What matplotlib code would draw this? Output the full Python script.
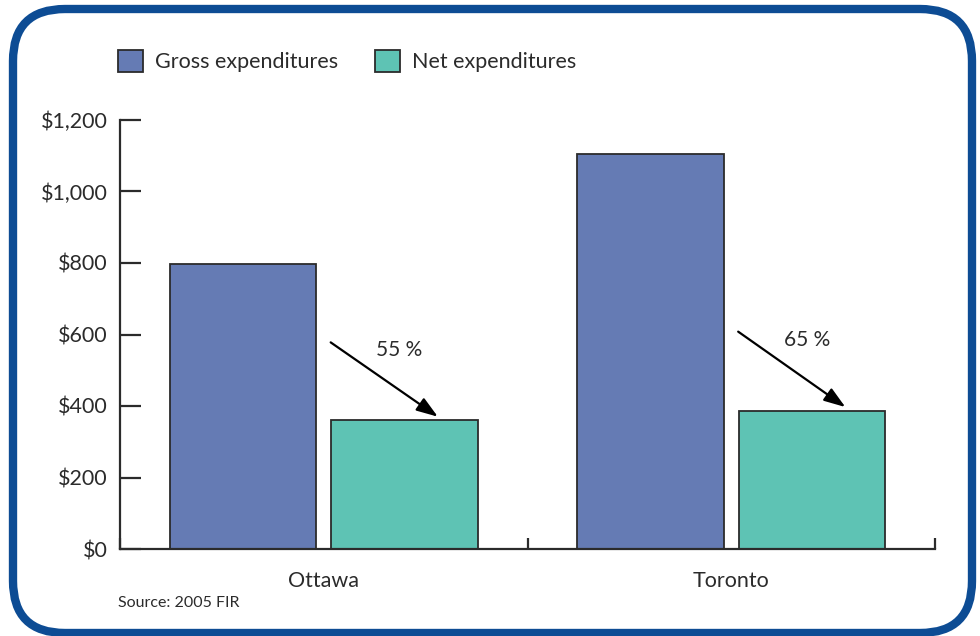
import matplotlib
matplotlib.use('agg')
import matplotlib.pyplot as plt
from matplotlib.patches import FancyBboxPatch
import numpy as np

cities = ["Ottawa", "Toronto"]
gross = [797, 1105]
net = [360, 387]
reduction = ["55 %", "65 %"]
yticks = [0, 200, 400, 600, 800, 1000, 1200]
ytick_labels = ["$0", "$200", "$400", "$600", "$800", "$1,000", "$1,200"]

gross_color = "#657bb4"
net_color = "#5ec3b4"
frame_color = "#0d4c94"
ink = "#2b2b2b"

plt.rcParams['font.family'] = ['Lato', 'DejaVu Sans']

fig = plt.figure(figsize=(9.8, 6.36), dpi=100)

# background axes in pixel units, holds the rounded blue frame
bg = fig.add_axes([0, 0, 1, 1])
bg.set_xlim(0, 980)
bg.set_ylim(636, 0)
bg.axis("off")
bg.add_patch(FancyBboxPatch((13, 9), 959, 624,
                            boxstyle="round,pad=0,rounding_size=52",
                            fill=False, edgecolor=frame_color, linewidth=6))

ax = fig.add_axes([120 / 980, (636 - 549) / 636, 815 / 980, 429 / 636])

x = np.arange(len(cities))
w = 0.36
off = 0.198
ax.bar(x - off, gross, w, color=gross_color, edgecolor=ink, linewidth=1.3,
       label="Gross expenditures")
ax.bar(x + off, net, w, color=net_color, edgecolor=ink, linewidth=1.3,
       label="Net expenditures")

ax.set_xlim(-0.5, 1.5)
ax.set_ylim(0, 1200)

# arrows from gross down to net with the percentage reduction
for i, lab in enumerate(reduction):
    start = (i + 0.017, 578 if i == 0 else 608)
    end = (i + 0.28, net[i] + 10)
    ax.annotate("", xy=end, xytext=start,
                arrowprops=dict(arrowstyle="-|>,head_length=1.3,head_width=0.45",
                                color="black", lw=1.6, shrinkA=0, shrinkB=0))
    ax.text(i + 0.185, start[1] - 22, lab, ha="center", va="center",
            fontsize=15, color=ink)

for s in ["top", "right"]:
    ax.spines[s].set_visible(False)
for s in ["left", "bottom"]:
    ax.spines[s].set_color(ink)
    ax.spines[s].set_linewidth(1.6)

ax.set_yticks(yticks)
ax.set_yticklabels(ytick_labels)
ax.tick_params(axis="y", direction="in", length=15, width=1.6, color=ink,
               labelsize=15.5, labelcolor=ink, pad=9)

# group boundaries as major ticks, city names on minor ticks
ax.set_xticks([-0.5, 0.5, 1.5])
ax.set_xticklabels([])
ax.set_xticks(x, minor=True)
ax.set_xticklabels(cities, minor=True)
ax.tick_params(axis="x", which="major", direction="in", length=8, width=1.6,
               color=ink)
ax.tick_params(axis="x", which="minor", length=0, labelsize=15.5,
               labelcolor=ink, pad=16)

fig.legend(loc="upper left", bbox_to_anchor=(99 / 980, 1 - 31 / 636),
           ncol=2, frameon=False, fontsize=15.5, handlelength=1.16,
           handleheight=1.16, handletextpad=0.55, columnspacing=1.7,
           labelcolor=ink)
for h in fig.legends[0].legend_handles:
    h.set_edgecolor(ink)
    h.set_linewidth(1.3)

fig.text(118 / 980, 1 - 603 / 636, "Source: 2005 FIR", fontsize=11.5,
         color=ink, va="center", ha="left")

fig.savefig("out.png", dpi=100)
